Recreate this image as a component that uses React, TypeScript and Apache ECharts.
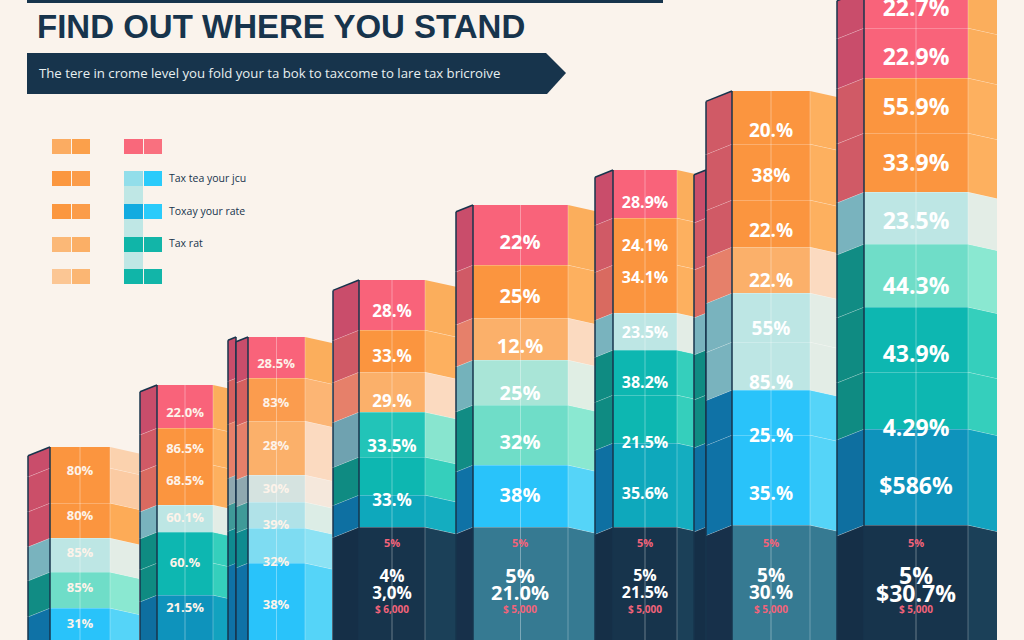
import React, { useEffect, useRef } from "react";
import * as echarts from "echarts";

const title = "FIND OUT WHERE YOU STAND";
const subtitle = "The tere in crome level you fold your ta bok to taxcome to lare tax bricroive";
const legendTexts = ["Tax tea your jcu", "Toxay your rate", "Tax rat"];

// Segment heights, bottom to top, and the colour band of each segment
const col1Heights = [32, 36, 34, 35, 35, 21];
const col1Bands = ["cyan", "mint", "pale", "orangeWarm", "orangeSoftFlat", "orangeSoft"];
const col2Heights = [45, 32, 31, 27, 40, 37, 43];
const col2Bands = ["blue", "tealFlat", "teal", "pale", "orangeFlat", "orange", "red"];
const col3Heights = [77, 35, 26, 27, 54, 43, 41];
const col3Bands = ["cyan", "cyanLight", "paleBlue", "paleGrey", "orangeLight", "orangeMid", "red"];
const col4Heights = [113, 32, 38, 45, 40, 42, 50];
const col4Bands = ["dark", "tealBlue", "teal", "turquoise", "orangeLight", "orange", "red"];
const col5Heights = [113, 62, 60, 45, 42, 53, 60];
const col5Bands = ["steel", "cyan", "mint", "paleMint", "orangeLight", "orange", "red"];
const col6Heights = [113, 84, 48, 45, 37, 48, 47, 48];
const col6Bands = ["dark", "tealBlue", "teal", "teal", "pale", "orangeFlat", "orange", "red"];
const col7Heights = [115, 90, 45, 48, 49, 46, 47, 56, 53];
const col7Bands = ["steel", "cyan", "cyan", "pale", "pale", "orangeLight", "orange", "orange", "orange"];
const col8Heights = [115, 96, 57, 65, 63, 52, 59, 55, 50, 38];
const col8Bands = ["dark", "blue", "teal", "teal", "mint", "pale", "orange", "orange", "red", "red"];

// Percent labels and the height each one sits at
const col1Labels = ["31%", "85%", "85%", "80%", "80%"];
const col1Levels = [17, 53, 88, 125, 170];
const col2Labels = ["21.5%", "60.%", "60.1%", "68.5%", "86.5%", "22.0%"];
const col2Levels = [33, 78, 123, 160, 192, 228];
const col3Labels = ["38%", "32%", "39%", "30%", "28%", "83%", "28.5%"];
const col3Levels = [36, 79, 116, 152, 195, 238, 277];
const col4Labels = ["3,0%", "4%", "33.%", "33.5%", "29.%", "33.%", "28.%"];
const col4Levels = [48, 65, 141, 195, 240, 285, 330];
const col5Labels = ["21.0%", "5%", "38%", "32%", "25%", "12.%", "25%", "22%"];
const col5Levels = [48, 65, 146, 199, 248, 295, 345, 399];
const col6Labels = ["21.5%", "5%", "35.6%", "21.5%", "38.2%", "23.5%", "34.1%", "24.1%", "28.9%"];
const col6Levels = [48, 65, 147, 198, 258, 308, 363, 395, 438];
const col7Labels = ["30.%", "5%", "35.%", "25.%", "85.%", "55%", "22.%", "22.%", "38%", "20.%"];
const col7Levels = [48, 65, 147, 205, 258, 312, 360, 410, 465, 510];
const col8Labels = ["$30.7%", "5%", "$586%", "4.29%", "43.9%", "44.3%", "23.5%", "33.9%", "55.9%", "22.9%", "22.7%"];
const col8Levels = [47, 65, 155, 213, 287, 355, 420, 478, 534, 584, 633];
const pinkLabels = ["$ 6,000", "$ 5,000", "$ 5,000", "$ 5,000", "$ 5,000"];
const pinkLevels = [31, 31, 31, 31, 31];
const pinkPercent = ["5%", "5%", "5%", "5%", "5%"];
const pinkPercentLevels = [98, 98, 98, 98, 98];

// Layout: [outer left, front start, front end, outer right] on the pixel-wide x axis
const geometry = [
  [28, 50, 110, 139],
  [140, 157, 213, 240],
  [228, 236, 236, 236],
  [236, 248, 305, 332],
  [333, 359, 425, 456],
  [456, 473, 568, 596],
  [595, 613, 677, 694],
  [694, 706, 706, 706],
  [706, 732, 810, 837],
  [837, 864, 968, 997],
];
const drawHeights = [col1Heights, col2Heights, col3Heights, col3Heights, col4Heights, col5Heights, col6Heights, col6Heights, col7Heights, col8Heights];
const drawBands = [col1Bands, col2Bands, col3Bands, col3Bands, col4Bands, col5Bands, col6Bands, col6Bands, col7Bands, col8Bands];
const labelSets = [
  [80, col1Labels, col1Levels, 13],
  [185, col2Labels, col2Levels, 13],
  [276, col3Labels, col3Levels, 13],
  [392, col4Labels, col4Levels, 17],
  [520, col5Labels, col5Levels, 20],
  [645, col6Labels, col6Levels, 16],
  [771, col7Labels, col7Levels, 19],
  [916, col8Labels, col8Levels, 23],
];
const pinkCentres = [392, 520, 645, 771, 916];

type Band = { front: string; left: string; right: string; flat?: boolean };
const bands: Record<string, Band> = {
  red: { front: "#F9637A", left: "#C94D6B", right: "#FBAE5C" },
  orange: { front: "#FB953F", left: "#D05A66", right: "#FDB05F" },
  orangeFlat: { front: "#FB953F", left: "#D96A60", right: "#FDB05F", flat: true },
  orangeWarm: { front: "#FB953F", left: "#CB4F69", right: "#FDAB57" },
  orangeSoft: { front: "#FB953F", left: "#C94D6B", right: "#FBD2AE" },
  orangeSoftFlat: { front: "#FB953F", left: "#CB4F69", right: "#FBCBA3", flat: true },
  orangeMid: { front: "#FB9C4E", left: "#D5605F", right: "#FCB574" },
  orangeLight: { front: "#FBB06A", left: "#E6806A", right: "#FBDAC0" },
  paleGrey: { front: "#D5E3E0", left: "#8FA9B0", right: "#F5E8DC" },
  paleBlue: { front: "#B0E2E8", left: "#3F9A98", right: "#DCEDE6" },
  pale: { front: "#BDE6E4", left: "#79B3BE", right: "#E3EDE6" },
  paleMint: { front: "#A9E5D7", left: "#74B2BB", right: "#E0EEE4" },
  mint: { front: "#6FDDC8", left: "#118C84", right: "#8AE8D1" },
  turquoise: { front: "#22C4B8", left: "#6FA2B0", right: "#88E5CF" },
  teal: { front: "#0DB7B1", left: "#0F8B82", right: "#35CFBC" },
  tealFlat: { front: "#0DB7B1", left: "#0F8B82", right: "#35CFBC", flat: true },
  tealBlue: { front: "#0EA8BC", left: "#0E70A2", right: "#14ADC0" },
  blue: { front: "#0E93BC", left: "#0E6FA0", right: "#12A2BF" },
  cyanLight: { front: "#7EDCF2", left: "#0F8B90", right: "#8CE2F4" },
  cyan: { front: "#29C3FA", left: "#0F72A6", right: "#55D4F8" },
  dark: { front: "#17344C", left: "#152F47", right: "#1B4058" },
  steel: { front: "#367A92", left: "#17304A", right: "#367A92" },
};

const segmentRows: number[][] = [];
const segmentBands: string[] = [];
drawHeights.forEach((heights, col) => {
  let base = 0;
  heights.forEach((h, i) => {
    segmentRows.push([col, base, base + h]);
    segmentBands.push(drawBands[col][i]);
    base += h;
  });
});

const labelRows: { x: number; y: number; text: string; size: number; fill: string }[] = [];
labelSets.forEach(([x, texts, levels, size]: any) => {
  texts.forEach((t: string, i: number) =>
    labelRows.push({ x, y: levels[i], text: t, size, fill: size < 14 ? "#FDF3EA" : "#FFFFFF" })
  );
});
pinkCentres.forEach((x, i) => {
  labelRows.push({ x, y: pinkLevels[i], text: pinkLabels[i], size: 10, fill: "#F2637A" });
  labelRows.push({ x, y: pinkPercentLevels[i], text: pinkPercent[i], size: 11, fill: "#F2637A" });
});

const FONT = '"Open Sans", sans-serif';
const INK = "#17344C";

function renderSegment(params: any, api: any) {
  const col = api.value(0);
  const base = api.value(1);
  const top = api.value(2);
  const band = bands[segmentBands[params.dataIndex]];
  const [outerL, frontL, frontR, outerR] = geometry[col];
  const rise = (frontL - outerL) * 0.4;
  const drop = (outerR - frontR) * 0.22;
  const p = (x: number, v: number) => api.coord([x, v]);
  const yTop = p(frontL, top)[1];
  const yBase = p(frontL, base)[1];
  const xL = p(outerL, 0)[0];
  const xF = p(frontL, 0)[0];
  const xR = p(frontR, 0)[0];
  const xO = p(outerR, 0)[0];
  const xC = (xF + xR) / 2;
  const isBottom = base === 0;
  const bottomDropL = isBottom ? 0 : rise;
  const bottomDropR = isBottom ? 0 : drop;
  const children: any[] = [
    { type: "polygon", shape: { points: [[xL, yTop + rise], [xF, yTop], [xF, yBase], [xL, yBase + bottomDropL]] }, style: { fill: band.left } },
  ];
  if (xR > xF) {
    children.push(
      { type: "rect", shape: { x: xF, y: yTop, width: xR - xF, height: yBase - yTop }, style: { fill: band.front } },
      { type: "polygon", shape: { points: [[xR, yTop], [xO, yTop + drop], [xO, yBase + bottomDropR], [xR, yBase]] }, style: { fill: band.right } },
      { type: "line", shape: { x1: xC, y1: yTop, x2: xC, y2: yBase }, style: { stroke: "rgba(255,255,255,0.35)", lineWidth: 1 } },
      { type: "line", shape: { x1: xR, y1: yTop, x2: xR, y2: yBase }, style: { stroke: "rgba(255,255,255,0.28)", lineWidth: 1 } }
    );
  }
  const isTop = segmentRows[params.dataIndex + 1]?.[0] !== col;
  if (!isTop) {
    const seam = "rgba(255,255,255,0.5)";
    children.push({ type: "line", shape: { x1: xL, y1: yTop + rise, x2: xF, y2: yTop }, style: { stroke: seam, lineWidth: 1 } });
    if (xR > xF) {
      if (!band.flat) children.push({ type: "line", shape: { x1: xF, y1: yTop, x2: xR, y2: yTop }, style: { stroke: seam, lineWidth: 1 } });
      children.push({ type: "line", shape: { x1: xR, y1: yTop, x2: xO, y2: yTop + drop }, style: { stroke: seam, lineWidth: 1 } });
    }
  }
  // Dark outline of the left face
  children.push(
    { type: "line", shape: { x1: xL, y1: yTop + rise, x2: xL, y2: yBase + bottomDropL }, style: { stroke: INK, lineWidth: 1.5 } },
    { type: "line", shape: { x1: xF, y1: yTop, x2: xF, y2: yBase }, style: { stroke: INK, lineWidth: 1.5 } }
  );
  if (isTop) {
    children.push({ type: "line", shape: { x1: xL, y1: yTop + rise, x2: xF, y2: yTop }, style: { stroke: INK, lineWidth: 1.5 } });
  }
  return { type: "group", children };
}

function renderLabel(params: any, api: any) {
  const row = labelRows[params.dataIndex];
  const [x, y] = api.coord([row.x, row.y]);
  return {
    type: "text",
    x,
    y,
    style: {
      text: row.text,
      fill: row.fill,
      fontFamily: FONT,
      fontWeight: 700,
      fontSize: row.size,
      align: "center",
      verticalAlign: "middle",
    },
  };
}

function swatch(x: number, y: number, w: number, h: number, fill: string) {
  return { type: "rect", shape: { x, y, width: w, height: h }, style: { fill } };
}

function legendGraphics() {
  const els: any[] = [];
  const rowsY = [139, 171, 204, 237, 269];
  const leftA = ["#FBAC62", "#FB973F", "#FB973F", "#FBB877", "#FBC694"];
  const leftB = ["#FBA04B", "#FB9C49", "#FB9C49", "#FBAF66", "#FBB673"];
  const rightA = ["#F9687B", "#92DEEA", "#12ABE0", "#10B5A8", "#10B5A8"];
  const rightB = ["#F9707F", "#2ACBFB", "#2ACBFB", "#12B5A8", "#12B5A8"];
  els.push(swatch(124, 185, 19, 84, "#BFE7E5"));
  rowsY.forEach((y, i) => {
    els.push(swatch(52, y, 19, 15, leftA[i]), swatch(72, y, 18, 15, leftB[i]));
    els.push(swatch(124, y, 19, 15, rightA[i]), swatch(144, y, 18, 15, rightB[i]));
  });
  legendTexts.forEach((t, i) => {
    els.push({
      type: "text",
      x: 169,
      y: [178, 211, 243][i],
      style: { text: t, fill: INK, fontFamily: FONT, fontSize: 10.5, verticalAlign: "middle" },
    });
  });
  return els;
}

export default function App() {
  const ref = useRef<HTMLDivElement>(null);
  useEffect(() => {
    document.body.style.margin = "0";
    const chart = echarts.init(ref.current!, undefined, { renderer: "svg" });
    chart.setOption({
      animation: false,
      backgroundColor: "#FAF3EC",
      grid: { left: 0, right: 0, top: 0, bottom: 0 },
      xAxis: { type: "value", min: 0, max: 1024, show: false },
      yAxis: { type: "value", min: 0, max: 640, show: false },
      series: [
        { type: "custom", renderItem: renderSegment, data: segmentRows, silent: true, clip: true },
        { type: "custom", renderItem: renderLabel, data: labelRows.map((r) => [r.x, r.y]), silent: true, z: 5 },
      ],
      graphic: [
        { type: "rect", shape: { x: 27, y: 0, width: 636, height: 3 }, style: { fill: INK } },
        {
          type: "text",
          x: 37,
          y: 26,
          style: {
            text: title,
            fill: INK,
            fontFamily: '"Liberation Sans Narrow", "Liberation Sans", sans-serif',
            fontWeight: 700,
            fontSize: 33,
            verticalAlign: "middle",
          },
        },
        { type: "polygon", shape: { points: [[27, 53], [546, 53], [566, 73], [547, 94], [27, 94]] }, style: { fill: INK } },
        {
          type: "text",
          x: 39,
          y: 73,
          style: { text: subtitle, fill: "#E8EFF0", fontFamily: FONT, fontSize: 13.2, verticalAlign: "middle" },
        },
        ...legendGraphics(),
      ],
    });
    return () => chart.dispose();
  }, []);
  return <div ref={ref} style={{ width: 1024, height: 640 }} />;
}
